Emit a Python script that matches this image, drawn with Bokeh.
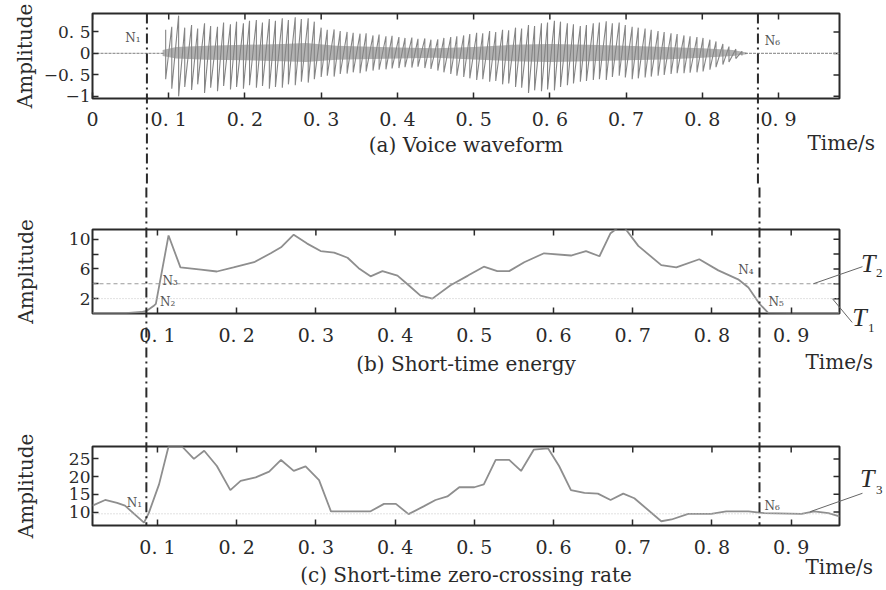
import math
from bokeh.plotting import figure
from bokeh.models import FixedTicker, Range1d, Span, Label, CustomJSTickFormatter
from bokeh.layouts import column
from bokeh.embed import file_html
from bokeh.resources import INLINE
from bokeh.core.properties import value

FONT = "DejaVu Serif"
TFONT = "Liberation Serif"
INK = "#2a2a2a"
CURVE = "#8e8e8e"

# ---------------- data ----------------
# (a) voice waveform: pitch pulses (time, peak, trough)
pulse_t = [0.096, 0.104, 0.113, 0.121, 0.130, 0.138, 0.147, 0.155, 0.164, 0.172,
           0.181, 0.189, 0.198, 0.206, 0.215, 0.223, 0.232, 0.240, 0.249, 0.257,
           0.266, 0.274, 0.283, 0.291, 0.300, 0.308, 0.317, 0.325, 0.334, 0.342,
           0.351, 0.359, 0.368, 0.376, 0.385, 0.393, 0.402, 0.410, 0.419, 0.427,
           0.436, 0.444, 0.453, 0.461, 0.470, 0.478, 0.487, 0.495, 0.504, 0.512,
           0.521, 0.529, 0.538, 0.546, 0.555, 0.563, 0.572, 0.580, 0.589, 0.597,
           0.606, 0.614, 0.623, 0.631, 0.640, 0.648, 0.657, 0.665, 0.674, 0.682,
           0.691, 0.699, 0.708, 0.716, 0.725, 0.733, 0.742, 0.750, 0.759, 0.767,
           0.776, 0.784, 0.793, 0.801, 0.810, 0.818, 0.827, 0.835, 0.844, 0.852]
pulse_hi = [0.55, 0.62, 0.88, 0.60, 0.66, 0.58, 0.70, 0.64, 0.62, 0.72,
            0.68, 0.74, 0.70, 0.76, 0.78, 0.72, 0.80, 0.76, 0.82, 0.78,
            0.84, 0.80, 0.82, 0.74, 0.60, 0.55, 0.56, 0.52, 0.50, 0.48,
            0.46, 0.47, 0.42, 0.44, 0.40, 0.41, 0.38, 0.36, 0.37, 0.34,
            0.35, 0.32, 0.33, 0.36, 0.38, 0.40, 0.42, 0.45, 0.48, 0.47,
            0.52, 0.50, 0.55, 0.54, 0.60, 0.58, 0.66, 0.64, 0.70, 0.72,
            0.76, 0.74, 0.70, 0.68, 0.64, 0.66, 0.70, 0.72, 0.75, 0.70,
            0.72, 0.66, 0.62, 0.60, 0.58, 0.55, 0.52, 0.50, 0.47, 0.45,
            0.42, 0.40, 0.38, 0.36, 0.32, 0.28, 0.22, 0.16, 0.10, 0.05]
pulse_lo = [-0.60, -0.82, -1.00, -0.78, -0.85, -0.72, -0.92, -0.80, -0.88, -0.76,
            -0.84, -0.78, -0.82, -0.74, -0.80, -0.76, -0.82, -0.78, -0.80, -0.72,
            -0.74, -0.66, -0.68, -0.60, -0.55, -0.52, -0.54, -0.48, -0.47, -0.44,
            -0.46, -0.42, -0.40, -0.38, -0.37, -0.35, -0.34, -0.32, -0.33, -0.31,
            -0.34, -0.36, -0.40, -0.44, -0.48, -0.52, -0.55, -0.58, -0.62, -0.60,
            -0.66, -0.64, -0.72, -0.70, -0.78, -0.80, -0.92, -0.86, -0.88, -0.84,
            -0.86, -0.78, -0.74, -0.70, -0.66, -0.64, -0.62, -0.60, -0.62, -0.55,
            -0.52, -0.56, -0.60, -0.58, -0.56, -0.54, -0.52, -0.50, -0.48, -0.46,
            -0.46, -0.45, -0.44, -0.42, -0.38, -0.32, -0.26, -0.20, -0.12, -0.05]
# dense core of the voiced waveform
core_t = [0.092, 0.11, 0.15, 0.2, 0.25, 0.28, 0.32, 0.4, 0.45, 0.5, 0.55, 0.6,
          0.65, 0.7, 0.75, 0.8, 0.84, 0.858]
core_hi = [0.08, 0.15, 0.18, 0.2, 0.22, 0.24, 0.18, 0.14, 0.12, 0.15, 0.2, 0.22,
           0.2, 0.18, 0.15, 0.12, 0.08, 0.02]
core_lo = [-0.06, -0.12, -0.15, -0.16, -0.18, -0.2, -0.15, -0.12, -0.1, -0.14, -0.18, -0.2,
           -0.18, -0.16, -0.14, -0.1, -0.06, -0.02]
# silent stretches (start, end)
silence_start = [0.0, 0.856]
silence_end = [0.094, 0.98]

# (b) short-time energy
energy_t = [0.018, 0.060, 0.080, 0.087, 0.095, 0.098, 0.114, 0.129, 0.155, 0.175,
            0.196, 0.222, 0.243, 0.256, 0.272, 0.289, 0.306, 0.323, 0.340, 0.354,
            0.369, 0.384, 0.403, 0.416, 0.432, 0.447, 0.470, 0.492, 0.512, 0.529,
            0.544, 0.563, 0.588, 0.622, 0.641, 0.658, 0.672, 0.682, 0.690, 0.707,
            0.736, 0.755, 0.784, 0.808, 0.833, 0.846, 0.860, 0.871, 0.900, 0.961]
energy_v = [0.05, 0.05, 0.2, 0.4, 1.0, 1.3, 10.5, 6.2, 5.9, 5.65,
            6.2, 6.9, 8.1, 8.9, 10.6, 9.4, 8.4, 8.2, 7.5, 6.1,
            5.0, 5.7, 5.1, 3.9, 2.4, 2.0, 3.8, 5.1, 6.3, 5.7,
            5.7, 6.9, 8.1, 7.8, 8.4, 7.7, 10.8, 11.6, 11.5, 9.1,
            6.5, 6.2, 7.3, 5.8, 4.6, 3.5, 1.3, 0.1, 0.05, 0.05]
T1 = 2.0   # low energy threshold
T2 = 4.0   # high energy threshold

# (c) short-time zero-crossing rate
zcr_t = [0.018, 0.034, 0.049, 0.059, 0.083, 0.089, 0.102, 0.114, 0.131, 0.146,
         0.159, 0.175, 0.192, 0.205, 0.224, 0.241, 0.256, 0.272, 0.287, 0.304,
         0.319, 0.369, 0.386, 0.401, 0.417, 0.436, 0.451, 0.466, 0.481, 0.500,
         0.512, 0.527, 0.544, 0.559, 0.575, 0.593, 0.607, 0.622, 0.639, 0.656,
         0.672, 0.688, 0.702, 0.736, 0.749, 0.770, 0.799, 0.818, 0.846, 0.866,
         0.913, 0.929, 0.947, 0.961]
zcr_v = [11.8, 13.4, 12.6, 11.8, 7.0, 9.7, 17.8, 28.5, 28.5, 25.0,
         27.3, 23.0, 16.2, 18.8, 19.8, 21.4, 24.7, 21.6, 22.9, 19.0,
         10.2, 10.2, 12.3, 12.3, 9.4, 11.6, 13.4, 14.4, 17.0, 17.0,
         17.8, 24.7, 24.7, 21.6, 27.6, 28.0, 23.0, 16.2, 15.4, 15.2,
         13.4, 15.2, 13.9, 7.4, 7.9, 9.5, 9.5, 10.2, 10.2, 9.7,
         9.5, 10.2, 9.7, 8.8]
T3 = 9.5

# endpoint boundaries (N1, N6) as they fall on each panel's time axis
bound_a = [0.0714, 0.873]
bound_bc = [0.086, 0.860]

# ticks
xticks_a = [0, 0.1, 0.2, 0.3, 0.4, 0.5, 0.6, 0.7, 0.8, 0.9]
xlabels_a = ["0", "0. 1", "0. 2", "0. 3", "0. 4", "0. 5", "0. 6", "0. 7", "0. 8", "0. 9"]
xticks_bc = [0.1, 0.2, 0.3, 0.4, 0.5, 0.6, 0.7, 0.8, 0.9]
xlabels_bc = ["0. 1", "0. 2", "0. 3", "0. 4", "0. 5", "0. 6", "0. 7", "0. 8", "0. 9"]
yticks_a = [-1, -0.5, 0, 0.5]
ylabels_a = ["\u22121", "\u22120. 5", "0", "0. 5"]
yticks_b = [2, 4, 6, 8, 10]
ylabels_b = ["2", "", "6", "", "10"]
yticks_c = [10, 15, 20, 25]
ylabels_c = ["10", "15", "20", "25"]

W = 884
LEFT = 92
RIGHT = 45


def fmt(tk, lb):
    return CustomJSTickFormatter(args=dict(tk=tk, lb=lb), code="""
        for (let i = 0; i < tk.length; i++) {
            if (Math.abs(tk[i] - tick) < 1e-9) return lb[i];
        }
        return '';
    """)


def make_panel(height, xr, yr, btop, bbot, xt, xl, yt, yl, caption,
               amp_standoff, lab_standoff, cap_standoff, time_x, time_y):
    p = figure(width=W, height=height, x_range=Range1d(*xr), y_range=Range1d(*yr),
               output_backend="svg", toolbar_location=None,
               min_border_left=LEFT, min_border_right=RIGHT,
               min_border_top=btop, min_border_bottom=bbot)
    p.outline_line_color = INK
    p.outline_line_width = 2
    p.grid.visible = False
    for ax in (p.xaxis[0], p.yaxis[0]):
        ax.axis_line_color = None
        ax.major_tick_in = 6
        ax.major_tick_out = 0
        ax.major_tick_line_color = INK
        ax.major_tick_line_width = 1.5
        ax.minor_tick_line_color = None
        ax.major_label_text_font = FONT
        ax.major_label_text_color = INK
        ax.axis_label_text_font = FONT
        ax.axis_label_text_font_style = "normal"
        ax.axis_label_text_color = INK
    xa = p.xaxis[0]
    xa.ticker = FixedTicker(ticks=xt)
    xa.formatter = fmt(xt, xl)
    xa.major_label_text_font_size = "19px"
    xa.major_label_standoff = lab_standoff
    xa.axis_label = caption
    xa.axis_label_text_font_size = "20px"
    xa.axis_label_standoff = cap_standoff
    ya = p.yaxis[0]
    ya.ticker = FixedTicker(ticks=yt)
    ya.formatter = fmt(yt, yl)
    ya.major_label_text_font_size = "17px"
    ya.major_label_standoff = 2
    ya.axis_label = "Amplitude"
    ya.axis_label_text_font_size = "20px"
    ya.axis_label_standoff = amp_standoff
    # mirrored inward tick marks on the top and right edges (half of each dash is clipped)
    p.scatter(x=xt, y=[yr[1]] * len(xt), marker="dash", size=12, angle=math.pi / 2,
              line_color=INK, line_width=1.5)
    p.scatter(x=[xr[1]] * len(yt), y=yt, marker="dash", size=12,
              line_color=INK, line_width=1.5)
    p.text(x=[time_x], y=[time_y], text=["Time/s"], text_font=value(FONT),
           text_font_size="20px", text_color=INK, text_baseline="middle",
           text_align="left", level="overlay")
    return p


def boundary(p, xs, top, bottom):
    p.segment(x0=xs, y0=[top] * len(xs), x1=xs, y1=[bottom] * len(xs),
              line_color=INK, line_width=2, line_dash="10 4 2 4", level="overlay")


def nlabel(p, x, y, text, size="12px"):
    p.add_layout(Label(x=x, y=y, text=text, text_font=FONT, text_font_size=size,
                       text_color="#555555", text_align="center", text_baseline="middle"))


def tlabel(p, x, y, xs, ys, sub):
    p.text(x=[x], y=[y], text=["T"], text_font=value(TFONT), text_font_style="italic",
           text_font_size="26px", text_color=INK, text_align="left",
           text_baseline="middle", level="overlay")
    p.text(x=[xs], y=[ys], text=[sub], text_font=value(TFONT),
           text_font_size="13px", text_color=INK, text_align="left",
           text_baseline="middle", level="overlay")


def leader(p, x0, y0, x1, y1):
    p.segment(x0=[x0], y0=[y0], x1=[x1], y1=[y1], line_color="#666666",
              line_width=1, level="overlay")


# ---------------- panel (a) ----------------
pa = make_panel(185, (0, 0.98), (-1.05, 0.93), 13, 87, xticks_a, xlabels_a,
                yticks_a, ylabels_a, "(a) Voice waveform", 4, 9, 0, 0.938, -2.08)
pa.segment(x0=silence_start, y0=[0, 0], x1=silence_end, y1=[0, 0],
           line_color="#999999", line_width=1.2, line_dash="3 1")
pa.varea(x=core_t, y1=core_lo, y2=core_hi, fill_color="#666666", fill_alpha=0.5)
# the waveform as a zig-zag through each pulse's peak and trough
wave_x = [t for t in pulse_t for _ in (0, 1)]
wave_y = [v for pair in zip(pulse_hi, pulse_lo) for v in pair]
pa.line(wave_x, wave_y, line_color="#858585", line_width=1.1)
boundary(pa, bound_a, 0.93, -10)
nlabel(pa, 0.053, 0.35, "N\u2081")
nlabel(pa, 0.892, 0.28, "N\u2086")

# ---------------- panel (b) ----------------
pb = make_panel(215, (0.018, 0.961), (0, 11.3), 44, 87, xticks_bc, xlabels_bc,
                yticks_b, ylabels_b, "(b) Short-time energy", 28, 10, 3, 0.918, -6.5)
pb.add_layout(Span(location=T2, dimension="width", line_color="#9a9a9a",
                   line_dash="4 3", line_width=1))
pb.add_layout(Span(location=T1, dimension="width", line_color="#c4c4c4",
                   line_dash="1 2", line_width=1))
pb.line(energy_t, energy_v, line_color=CURVE, line_width=1.8)
boundary(pb, bound_bc, 60, -60)
nlabel(pb, 0.116, 4.4, "N\u2083")
nlabel(pb, 0.113, 1.6, "N\u2082")
nlabel(pb, 0.843, 5.8, "N\u2084")
nlabel(pb, 0.881, 1.6, "N\u2085")
leader(pb, 0.928, T2, 0.990, 6.3)
leader(pb, 0.952, T1, 0.977, -1.2)
tlabel(pb, 0.988, 6.7, 1.007, 5.5, "2")
tlabel(pb, 0.977, -0.6, 0.997, -1.9, "1")

# ---------------- panel (c) ----------------
pc = make_panel(189, (0.018, 0.961), (6.2, 28.5), 46, 57, xticks_bc, xlabels_bc,
                yticks_c, ylabels_c, "(c) Short-time zero-crossing rate", 28, 10, 2, 0.918, -5.6)
pc.add_layout(Span(location=T3, dimension="width", line_color="#c4c4c4",
                   line_dash="1 2", line_width=1))
pc.line(zcr_t, zcr_v, line_color=CURVE, line_width=1.8)
boundary(pc, bound_bc, 120, 6.2)
nlabel(pc, 0.071, 12.6, "N\u2081")
nlabel(pc, 0.876, 11.8, "N\u2086")
leader(pc, 0.924, 10.1, 0.990, 15.3)
tlabel(pc, 0.987, 19.4, 1.007, 16.3, "3")

layout = column(pa, pb, pc, spacing=0)
open("out.html", "w").write(file_html(layout, INLINE))
